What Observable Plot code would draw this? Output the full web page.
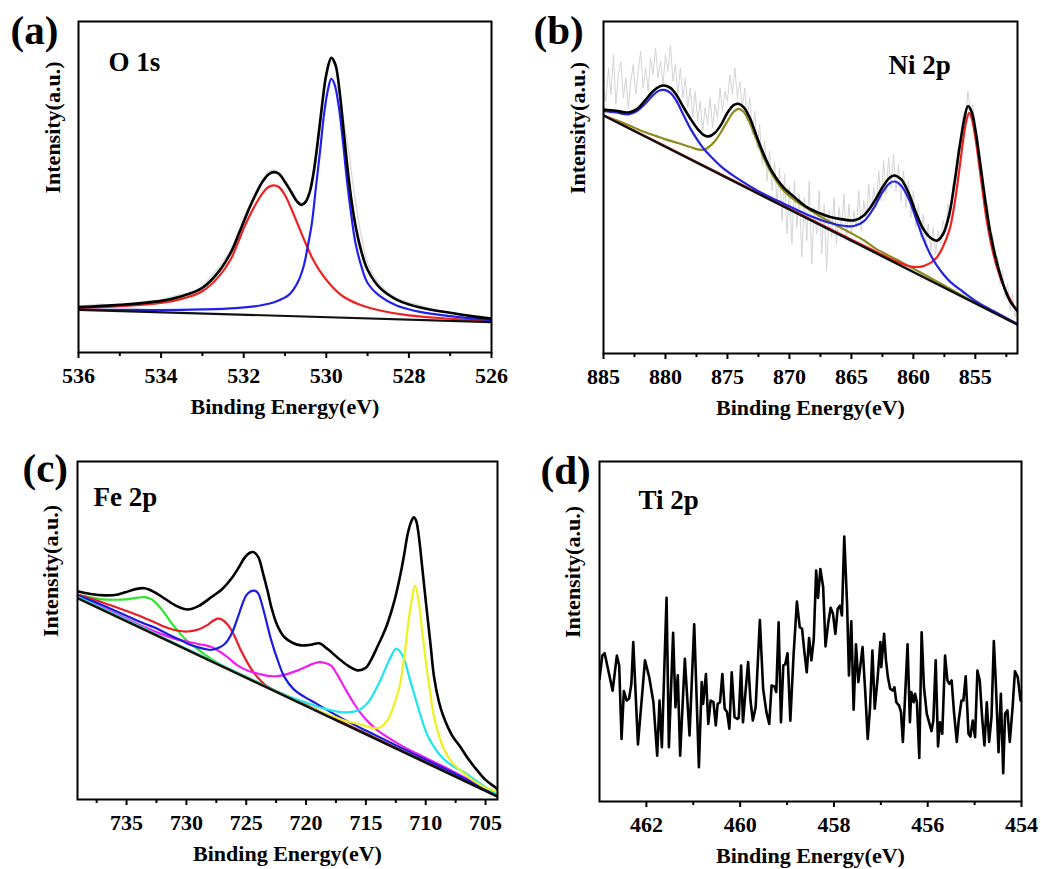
<!DOCTYPE html>
<html>
<head>
<meta charset="utf-8">
<script src="https://cdn.jsdelivr.net/npm/d3@7"></script>
<script src="https://cdn.jsdelivr.net/npm/@observablehq/plot@0.6"></script>
<style>
  body { margin: 0; background: #fff; }
  #fig { position: relative; width: 1041px; height: 869px; overflow: hidden; background: #fff; }
</style>
</head>
<body>
<div id="fig"></div>
<script>
// ---------- (a) O 1s : [binding energy (eV), intensity (a.u.)] ----------
const o1sTicks = [536, 534, 532, 530, 528, 526];
const o1sMinorTicks = [535, 533, 531, 529, 527];
const o1sRaw = [
  [536, 13.9], [535.5, 14.6], [535, 14.2], [534.5, 15.3], [534, 15.9], [533.5, 17.6], [533.2, 18.2],
  [532.9, 21.5], [532.6, 25.8], [532.3, 31.5], [532.0, 40.5], [531.7, 48.5], [531.4, 54.5], [531.2, 55],
  [531.0, 52], [530.8, 48], [530.6, 45], [530.4, 48], [530.2, 63], [530.0, 83], [529.88, 88], [529.75, 85],
  [529.6, 72], [529.45, 60], [529.3, 46], [529.15, 35], [529.0, 27], [528.7, 20.5], [528.3, 16.5],
  [527.8, 14.5], [527.2, 12.2], [526.8, 11.8], [526.4, 11.1], [526, 10.5]
];
const o1sBackground = [[536, 12.9], [526, 9.2]];
const o1sPeakHigh = [ // component near 531.3 eV
  [536, 13.4], [535, 14.0], [534, 15.0], [533.5, 16.2], [533.0, 18.5], [532.6, 23], [532.3, 28.5],
  [532.13, 33.5], [532.0, 37.5], [531.85, 41.5], [531.7, 45], [531.55, 48], [531.4, 50], [531.28, 50.5],
  [531.15, 50], [531.0, 47.5], [530.85, 43.5], [530.7, 39], [530.5, 33], [530.35, 28.8], [530.15, 24.5],
  [529.9, 20.5], [529.6, 17], [529.2, 14.5], [528.7, 12.7], [528, 11.2], [527, 10.2], [526, 9.4]
];
const o1sPeakLow = [ // component near 529.9 eV
  [536, 12.9], [535, 12.9], [534, 12.8], [533, 13.0], [532.2, 13.4], [531.6, 14.2], [531.2, 15.5],
  [530.9, 17.5], [530.7, 21], [530.55, 26], [530.45, 32], [530.35, 39], [530.25, 50], [530.15, 61],
  [530.05, 72.5], [529.95, 80], [529.88, 82.7], [529.8, 81], [529.7, 74.5], [529.6, 64], [529.5, 52],
  [529.4, 42], [529.3, 33.5], [529.15, 26], [529.0, 21], [528.7, 17], [528.3, 14.2], [527.7, 12.2],
  [527, 11], [526.5, 10.3], [526, 9.8]
];
const o1sEnvelope = [
  [536, 13.7], [535, 14.4], [534, 15.6], [533.5, 17], [533.0, 19.5], [532.6, 24.5], [532.3, 30.5],
  [532.13, 35.5], [532.0, 39.5], [531.85, 44], [531.7, 48], [531.55, 51.5], [531.4, 53.8], [531.28, 54.5],
  [531.15, 54], [531.0, 51.5], [530.85, 48.5], [530.7, 45.5], [530.6, 44.6], [530.5, 45.5], [530.4, 48.5],
  [530.3, 55], [530.2, 64.5], [530.1, 75], [530.0, 84], [529.88, 89], [529.78, 87], [529.68, 79],
  [529.58, 67], [529.48, 55], [529.38, 45], [529.28, 37.5], [529.15, 30.5], [529.0, 25], [528.7, 19.5],
  [528.3, 16], [527.7, 13.5], [527.0, 12], [526.5, 11], [526, 10.2]
];

// ---------- (b) Ni 2p ----------
const ni2pTicks = [885, 880, 875, 870, 865, 860, 855];
const ni2pMinorTicks = [882.5, 877.5, 872.5, 867.5, 862.5, 857.5, 852.5];
const ni2pRaw = [
  [885.0, 80], [884.8, 76], [884.6, 86], [884.4, 78], [884.2, 90], [884.0, 75], [883.8, 84], [883.6, 88],
  [883.4, 77], [883.2, 83], [883.0, 74], [882.8, 82], [882.6, 87], [882.4, 78], [882.2, 85], [882.0, 91],
  [881.8, 80], [881.6, 86], [881.4, 79], [881.2, 89], [881.0, 84], [880.8, 92], [880.6, 83], [880.4, 88],
  [880.2, 81], [880.0, 90], [879.8, 85], [879.6, 93], [879.4, 82], [879.2, 87], [879.0, 78], [878.8, 86],
  [878.6, 77], [878.4, 83], [878.2, 74], [878.0, 80], [877.8, 71], [877.6, 79], [877.4, 70], [877.2, 76],
  [877.0, 67], [876.8, 74], [876.6, 69], [876.4, 77], [876.2, 68], [876.0, 75], [875.8, 71], [875.6, 80],
  [875.4, 73], [875.2, 79], [875.0, 76], [874.8, 84], [874.6, 78], [874.4, 86], [874.2, 77], [874.0, 82],
  [873.8, 74], [873.6, 80], [873.4, 70], [873.2, 77], [873.0, 66], [872.8, 73], [872.6, 62], [872.4, 69],
  [872.2, 57], [872.0, 64], [871.8, 52], [871.6, 61], [871.4, 49], [871.2, 58], [871.0, 45], [870.8, 56],
  [870.6, 40], [870.4, 54], [870.2, 36], [870.0, 50], [869.8, 33], [869.6, 52], [869.4, 38], [869.2, 48],
  [869.0, 29], [868.8, 47], [868.6, 34], [868.4, 52], [868.2, 27], [868.0, 44], [867.8, 36], [867.6, 49],
  [867.4, 30], [867.2, 45], [867.0, 25], [866.8, 43], [866.6, 35], [866.4, 47], [866.2, 33], [866.0, 44],
  [865.8, 37], [865.6, 48], [865.4, 34], [865.2, 45], [865.0, 36], [864.8, 43], [864.6, 38], [864.4, 49],
  [864.2, 37], [864.0, 46], [863.8, 40], [863.6, 51], [863.4, 42], [863.2, 50], [863.0, 44], [862.8, 55],
  [862.6, 46], [862.4, 58], [862.2, 48], [862.0, 59], [861.8, 50], [861.6, 60], [861.4, 49], [861.2, 57],
  [861.0, 46], [860.8, 55], [860.6, 44], [860.4, 52], [860.2, 41], [860.0, 49], [859.8, 38], [859.6, 45],
  [859.4, 35], [859.2, 42], [859.0, 32], [858.8, 39], [858.6, 31], [858.4, 38], [858.2, 30], [858.0, 37],
  [857.8, 33], [857.6, 40], [857.4, 37], [857.2, 45], [857.0, 41], [856.8, 51], [856.6, 52], [856.4, 62],
  [856.2, 63], [856.0, 72], [855.8, 71], [855.6, 79], [855.4, 73], [855.2, 75], [855.0, 66], [854.8, 65],
  [854.6, 54], [854.4, 54], [854.2, 43], [854.0, 45], [853.8, 33], [853.6, 36], [853.4, 27], [853.2, 29],
  [853.0, 21], [852.8, 25], [852.6, 17], [852.4, 21], [852.2, 13], [852.0, 18], [851.8, 11], [851.6, 15]
];
const ni2pBackground = [[885, 71.7], [851.6, 8.7]];
const ni2pHalfPeak = [ // 2p1/2 main line near 874 eV
  [885, 71.7], [884, 70.3], [883, 68.8], [882, 67.2], [881, 65.8], [880, 64.5], [879, 63.4], [878, 62.2],
  [877.4, 61.5], [876.9, 61.4], [876.5, 62.2], [876.0, 64], [875.5, 66.8], [875.0, 70], [874.5, 72.8],
  [874.1, 73.7], [873.7, 72.8], [873.2, 69.5], [872.7, 64.8], [872.1, 59.2], [871.4, 54], [870.5, 49.2],
  [869.5, 46], [868.6, 43.8], [867.6, 41.5], [866.7, 39.6], [865.7, 37.6], [864.8, 35.8], [864, 34.1],
  [863, 31.5], [861, 27.6], [858, 21.5], [855, 15.3], [851.6, 8.8]
];
const ni2pSatellites = [ // satellites near 880 and 861.5 eV
  [885, 73], [884, 72.6], [883, 72], [882.3, 73], [881.7, 75], [881, 77.8], [880.5, 79.2], [880.1, 79.4],
  [879.6, 78.5], [879.1, 76], [878.6, 72.2], [878.0, 67.8], [877.4, 64.2], [876.9, 61.6], [876.3, 59.2],
  [875.5, 56.3], [874.5, 53.5], [873.1, 50.2], [871.8, 47.5], [870.5, 45.2], [868.6, 41.9], [866.7, 39.3],
  [865.5, 38.4], [864.8, 38.4], [864.0, 39.8], [863.2, 43.8], [862.5, 48.5], [861.9, 51.3], [861.5, 51.8],
  [861.0, 50.6], [860.4, 46.8], [859.8, 40.8], [859.2, 34.6], [858.6, 29.6], [858.1, 26.5], [857.5, 23.5],
  [857.0, 21.5], [856.0, 18.6], [854.9, 15.6], [853.5, 12.7], [851.6, 8.9]
];
const ni2pMainPeak = [ // 2p3/2 main line near 855.5 eV
  [885, 71.8], [880, 62.4], [875, 53], [870, 43.6], [867, 38], [865, 34.3], [863.2, 31], [862, 28.8],
  [861, 27.2], [860.2, 26.2], [859.5, 26.1], [859.0, 26.6], [858.5, 27.6], [858.1, 29], [857.7, 31.5],
  [857.3, 35], [857.0, 38.5], [856.6, 47], [856.2, 58], [855.9, 66.5], [855.7, 70.5], [855.5, 72.5],
  [855.3, 71], [855.0, 65], [854.7, 57], [854.4, 48.5], [854.1, 40.5], [853.7, 32.5], [853.3, 26.5],
  [852.8, 21], [852.3, 17], [851.6, 12.5]
];
const ni2pEnvelope = [
  [885, 73.5], [884, 73.1], [883, 72.6], [882.3, 73.6], [881.7, 76], [881, 79], [880.5, 80.4], [880.1, 80.7],
  [879.6, 80], [879.1, 77.8], [878.6, 74.5], [878.0, 70.8], [877.4, 67.6], [876.9, 65.8], [876.5, 65.4],
  [876.0, 66.5], [875.5, 69], [875.0, 72.5], [874.5, 74.8], [874.1, 75.2], [873.7, 74.2], [873.2, 71],
  [872.7, 66], [872.1, 60.2], [871.4, 54.8], [870.5, 50.1], [869.5, 46.8], [868.6, 44.1], [867.6, 42.3],
  [866.7, 41.1], [865.7, 40.4], [864.8, 40.1], [864.0, 41.6], [863.2, 45.5], [862.5, 50], [861.9, 53],
  [861.5, 53.6], [861.0, 52.5], [860.4, 48.5], [859.8, 42.5], [859.2, 37.5], [858.6, 34.8], [858.1, 34.0],
  [857.6, 36], [857.1, 42], [856.7, 51], [856.3, 61.5], [855.9, 70.5], [855.6, 74.5], [855.3, 72.8],
  [855.0, 67.5], [854.6, 57], [854.2, 46.1], [853.8, 36.5], [853.4, 29.5], [853.0, 23.8], [852.6, 19.2],
  [852.2, 15.8], [851.6, 12.8]
];

// ---------- (c) Fe 2p ----------
const fe2pTicks = [735, 730, 725, 720, 715, 710, 705];
const fe2pMinorTicks = [737.5, 732.5, 727.5, 722.5, 717.5, 712.5, 707.5];
const fe2pBackground = [[739.1, 59.6], [704, 0.9]];
const fe2pSat12 = [ // green
  [739.1, 60.6], [738, 59.8], [737, 59.2], [736, 59.1], [735.1, 59.2], [734.3, 59.6], [733.5, 59.9],
  [732.9, 59.2], [732.4, 57.6], [731.8, 55], [731.2, 52], [730.5, 49], [729.8, 46.5], [729.1, 44.6],
  [728.3, 42.5], [727, 39.6], [725, 36.3], [720, 27.9], [715, 19.5], [710, 11.1], [704, 1.0]
];
const fe3p12 = [ // red
  [739.1, 60.6], [737, 58.3], [735.1, 55.9], [733.5, 53.7], [732.6, 52.3], [731.6, 50.8], [730.8, 50],
  [729.9, 49.7], [729.0, 50.3], [728.3, 51.5], [727.8, 52.8], [727.4, 53.5], [727.0, 53.2], [726.5, 51.5],
  [726.0, 48.5], [725.5, 44.5], [724.9, 40.5], [724.4, 37.7], [723.8, 35.2], [723.3, 33.6], [722.5, 32.0],
  [721.8, 30.9], [720, 28.0], [715, 19.5], [710, 11.1], [704, 1.0]
];
const fe2p12 = [ // blue
  [739.1, 60.4], [737, 57.5], [735.1, 54.5], [733.5, 52], [732.6, 50.8], [731.5, 48.8], [730.5, 47.2],
  [729.9, 46.1], [729.0, 45], [728.3, 44.4], [727.9, 44.3], [727.3, 44.9], [726.8, 46], [726.5, 47.3],
  [726.1, 50], [725.7, 53.9], [725.3, 58], [725.0, 60.4], [724.6, 61.6], [724.3, 61.8], [724.0, 61],
  [723.7, 57.9], [723.3, 52.5], [722.9, 47], [722.4, 41.5], [721.8, 36.2], [721.0, 32.5], [720.1, 30.3],
  [719.2, 28.5], [718.4, 26.8], [717, 24], [715, 20.4], [712, 15.2], [708, 8.4], [704, 1.1]
];
const fe2pSat32 = [ // magenta
  [739.1, 60.0], [736, 55.2], [733.5, 51.0], [731, 47.6], [729, 46.0], [727.9, 45.1], [726.7, 42.5],
  [725.7, 39.6], [724.8, 38.0], [724.0, 37.2], [723.2, 36.6], [722.4, 36.5], [721.6, 37.1], [720.7, 38.2],
  [719.8, 39.6], [719.0, 40.6], [718.4, 40.4], [717.9, 39.6], [717.4, 37], [716.8, 33.2], [716.1, 29],
  [715.4, 25.4], [714.7, 22.6], [714.0, 20.4], [712.9, 17.8], [711.8, 15.5], [710.4, 13], [709.0, 10.6],
  [707.6, 8.1], [706.25, 5.6], [705.2, 3.5], [704.2, 1.7], [704, 1.4]
];
const fe3p32 = [ // cyan
  [739.1, 60.0], [735, 53.2], [730, 44.6], [725, 36.3], [722, 31.3], [720.1, 28.8], [718.4, 26.8],
  [717.5, 26.1], [716.8, 25.8], [716.0, 26.0], [715.4, 26.8], [714.8, 28.8], [714.3, 31.7], [713.8, 35.2],
  [713.2, 40.1], [712.8, 43], [712.5, 44.6], [712.2, 44], [711.8, 41.6], [711.4, 36.5], [711.0, 31.7],
  [710.4, 24.5], [709.9, 19.4], [709.2, 15], [708.5, 12.0], [707.6, 9.6], [706.8, 8.1], [705.5, 4.8],
  [704.2, 1.9], [704, 1.5]
];
const fe2p32 = [ // yellow
  [739.1, 59.6], [730, 44.4], [725, 36.1], [720, 27.8], [718.4, 25.5], [717, 23.6], [715.7, 22.4],
  [714.9, 21.6], [714.3, 21.1], [713.8, 21.4], [713.2, 23.4], [712.7, 27.5], [712.2, 33.2], [711.8, 42],
  [711.5, 51.0], [711.2, 58.5], [710.9, 63.3], [710.6, 58.9], [710.3, 50], [710.0, 41.1], [709.6, 31],
  [709.3, 24.4], [708.9, 19], [708.5, 15.0], [707.8, 11], [707.1, 8.6], [706, 5.5], [705, 3.5],
  [704.2, 2.5], [704, 2.2]
];
const fe2pEnvelope = [
  [739.1, 61.6], [738, 60.8], [736.8, 60.4], [735.8, 60.6], [735.1, 61.3], [734.3, 62.2], [733.5, 62.5],
  [732.7, 61.4], [731.8, 59.4], [730.8, 57.2], [729.9, 56.2], [729.0, 57.2], [727.9, 59.9], [727.0, 62.3],
  [726.25, 65.3], [725.6, 68.8], [725.1, 71.7], [724.7, 73], [724.4, 73.2], [724.0, 71.8], [723.6, 67],
  [723.2, 61.5], [722.9, 56.9], [722.4, 51.5], [721.8, 48.0], [721.1, 46.3], [720.4, 45.6], [719.6, 45.8],
  [718.9, 46.2], [718.2, 44.5], [717.4, 42.1], [716.5, 39.6], [715.7, 38.2], [715.0, 39], [714.6, 41.1],
  [714.0, 45.5], [713.6, 48.5], [713.2, 52.0], [712.6, 59], [712.1, 66.8], [711.8, 72.5], [711.5, 78.6],
  [711.2, 82.3], [711.0, 83.5], [710.8, 82.5], [710.6, 78.6], [710.3, 69], [710.0, 58.9], [709.6, 46],
  [709.3, 36.2], [708.9, 29], [708.5, 24.4], [707.8, 19], [707.1, 15.5], [706.4, 11.8], [705.7, 8.6],
  [705.0, 5.8], [704.2, 3.6], [704, 3.0]
];

// ---------- (d) Ti 2p ----------
const ti2pTicks = [462, 460, 458, 456, 454];
const ti2pMinorTicks = [461, 459, 457, 455];
const ti2pRaw = [
  [463.0, 36], [462.94, 42.9], [462.89, 43.6], [462.72, 32.6], [462.63, 42.9], [462.58, 40.0], [462.53, 18.4],
  [462.48, 32.5], [462.42, 29.7], [462.37, 30.2], [462.32, 34.6], [462.28, 46.9], [462.18, 16.8], [462.03, 41.5],
  [461.94, 36.6], [461.85, 29.2], [461.77, 13.5], [461.72, 29.7], [461.67, 16.0], [461.57, 59.9], [461.52, 16.0],
  [461.43, 49.6], [461.38, 27.7], [461.33, 37.1], [461.28, 13.5], [461.18, 42.0], [461.08, 19.4], [460.98, 52.1],
  [460.88, 10.1], [460.82, 35.1], [460.79, 28.7], [460.73, 37.5], [460.68, 22.8], [460.63, 29.7], [460.57, 29.2],
  [460.52, 22.4], [460.48, 28.7], [460.43, 29.2], [460.38, 37.5], [460.33, 27.3], [460.28, 26.3], [460.23, 21.4],
  [460.18, 38.0], [460.12, 24.8], [460.06, 24.3], [460.03, 24.6], [459.98, 40.0], [459.94, 23.3], [459.89, 31.7],
  [459.83, 41.0], [459.78, 29.7], [459.73, 23.8], [459.67, 27.7], [459.58, 53.4], [459.51, 33.1], [459.44, 26.3],
  [459.38, 22.8], [459.33, 34.1], [459.27, 33.8], [459.23, 32.2], [459.18, 52.7], [459.13, 23.3], [459.08, 40.0],
  [459.04, 40.3], [458.99, 43.6], [458.93, 23.8], [458.86, 43.4], [458.79, 58.8], [458.73, 51.3], [458.68, 50.8],
  [458.63, 43.9], [458.58, 38.0], [458.53, 48.1], [458.48, 41.5], [458.43, 47.8], [458.38, 67.9], [458.34, 59.9],
  [458.29, 68.4], [458.23, 63.0], [458.18, 45.6], [458.12, 52.7], [458.07, 57.0], [458.02, 55.2], [457.97, 49.3],
  [457.92, 56.7], [457.87, 57.6], [457.83, 54.7], [457.78, 77.9], [457.72, 58.1], [457.68, 37.1], [457.63, 53.0],
  [457.58, 27.0], [457.53, 46.2], [457.48, 35.1], [457.44, 39.5], [457.39, 45.4], [457.33, 31.7], [457.28, 18.4],
  [457.23, 27.7], [457.18, 44.4], [457.13, 27.3], [457.07, 36.1], [457.01, 46.9], [456.99, 39.5], [456.93, 49.3],
  [456.89, 41.5], [456.85, 36.6], [456.80, 33.1], [456.74, 32.6], [456.71, 33.6], [456.67, 29.2], [456.61, 28.2],
  [456.57, 26.3], [456.53, 17.5], [456.48, 31.7], [456.43, 46.2], [456.38, 23.3], [456.35, 32.2], [456.30, 29.2],
  [456.27, 31.7], [456.23, 29.2], [456.18, 12.8], [456.13, 49.8], [456.08, 33.6], [456.02, 25.8], [455.97, 23.3],
  [455.92, 20.7], [455.88, 23.8], [455.83, 41.5], [455.78, 16.2], [455.74, 23.3], [455.69, 19.9], [455.63, 42.9],
  [455.58, 35.6], [455.54, 34.6], [455.49, 35.6], [455.44, 26.3], [455.38, 17.5], [455.34, 23.8], [455.28, 29.7],
  [455.24, 29.7], [455.19, 36.8], [455.13, 19.9], [455.09, 19.1], [455.04, 23.8], [454.99, 18.9], [454.94, 38.5],
  [454.89, 35.6], [454.84, 24.8], [454.79, 16.5], [454.74, 29.2], [454.69, 17.5], [454.64, 24.8], [454.59, 47.2],
  [454.55, 35.6], [454.49, 14.5], [454.44, 31.7], [454.39, 8.3], [454.35, 25.8], [454.30, 26.8], [454.25, 17.5],
  [454.19, 27.7], [454.14, 38.3], [454.08, 36.6], [454.02, 29.7]
];

// ---------- drawing ----------
const SERIF = "'Liberation Serif', 'Times New Roman', Times, serif";
const fig = document.getElementById("fig");

function drawPanel(p) {
  const marks = p.series.map(s =>
    Plot.line(s.data, {
      x: d => d[0], y: d => d[1],
      stroke: s.color, strokeWidth: s.width ?? 2.2,
      curve: s.curve ?? "catmull-rom", clip: true
    })
  );
  marks.push(
    Plot.frame({stroke: "black", strokeWidth: 2}),
    Plot.axisX({ticks: p.minor, tickSize: 4, strokeWidth: 2, tickFormat: () => "", label: null}),
    Plot.axisX({ticks: p.major, tickSize: 6, tickPadding: 9, strokeWidth: 2, tickFormat: d => String(d), label: null}),
    Plot.text(["Binding Energy(eV)"], {frameAnchor: "bottom", dy: 54, lineAnchor: "middle", fontSize: 22}),
    Plot.text(["Intensity(a.u.)"], {frameAnchor: "left", dx: p.yTitleDx, dy: 6.5, rotate: -90, lineAnchor: "middle", fontSize: 22}),
    Plot.text([p.letter], {frameAnchor: "top-left", dx: p.letterAt[0], dy: p.letterAt[1], textAnchor: "start", lineAnchor: "bottom", fontSize: 41}),
    Plot.text([p.species], {frameAnchor: "top-left", dx: p.speciesAt[0], dy: p.speciesAt[1], textAnchor: "start", lineAnchor: "bottom", fontSize: 27})
  );
  const svg = Plot.plot({
    width: p.width, height: p.height,
    marginLeft: p.margin[0], marginTop: p.margin[1], marginRight: p.margin[2], marginBottom: p.margin[3],
    x: {domain: p.domain, axis: null},
    y: {domain: [0, 100], axis: null},
    style: {fontFamily: SERIF, fontWeight: "bold", fontSize: "22px", color: "black", background: "transparent", overflow: "visible"},
    marks
  });
  svg.style.position = "absolute";
  svg.style.left = p.left + "px";
  svg.style.top = p.top + "px";
  fig.appendChild(svg);
}

drawPanel({
  left: 0, top: 0, width: 520, height: 430, margin: [78, 21, 29, 78],
  domain: [536, 526], major: o1sTicks, minor: o1sMinorTicks,
  letter: "(a)", letterAt: [-68, 22], species: "O 1s", speciesAt: [30, 49], yTitleDx: -26,
  series: [
    {data: o1sRaw, color: "#dadada", width: 1.4},
    {data: o1sPeakHigh, color: "#ee2020"},
    {data: o1sPeakLow, color: "#2020ee"},
    {data: o1sBackground, color: "#111", curve: "linear"},
    {data: o1sEnvelope, color: "#000", width: 2.6}
  ]
});

drawPanel({
  left: 520, top: 0, width: 521, height: 430, margin: [83, 21, 24, 77],
  domain: [885, 851.6], major: ni2pTicks, minor: ni2pMinorTicks,
  letter: "(b)", letterAt: [-70, 22], species: "Ni 2p", speciesAt: [285, 52], yTitleDx: -26,
  series: [
    {data: ni2pRaw, color: "#d4d4d4", width: 1, curve: "linear"},
    {data: ni2pHalfPeak, color: "#8c8c1e"},
    {data: ni2pMainPeak, color: "#ee2020"},
    {data: ni2pSatellites, color: "#2424dc"},
    {data: ni2pBackground, color: "#111", width: 2.4, curve: "linear"},
    {data: ni2pEnvelope, color: "#000", width: 2.6}
  ]
});

drawPanel({
  left: 0, top: 440, width: 520, height: 429, margin: [77, 21, 23, 70],
  domain: [739.1, 704], major: fe2pTicks, minor: fe2pMinorTicks,
  letter: "(c)", letterAt: [-55, 20], species: "Fe 2p", speciesAt: [16, 44], yTitleDx: -27,
  series: [
    {data: fe2pSat12, color: "#2ee62e"},
    {data: fe3p12, color: "#ec1c24"},
    {data: fe2pSat32, color: "#f01ef0"},
    {data: fe2p12, color: "#1b1be0"},
    {data: fe3p32, color: "#1ee6f0"},
    {data: fe2p32, color: "#f0f01e"},
    {data: fe2pBackground, color: "#111", width: 2.6, curve: "linear"},
    {data: fe2pEnvelope, color: "#000", width: 2.6}
  ]
});

drawPanel({
  left: 520, top: 440, width: 521, height: 429, margin: [79, 21, 20, 68],
  domain: [463, 454], major: ti2pTicks, minor: ti2pMinorTicks,
  letter: "(d)", letterAt: [-59, 22], species: "Ti 2p", speciesAt: [39, 47], yTitleDx: -27,
  series: [
    {data: ti2pRaw, color: "#000", width: 2.6, curve: "linear"}
  ]
});
</script>
</body>
</html>
